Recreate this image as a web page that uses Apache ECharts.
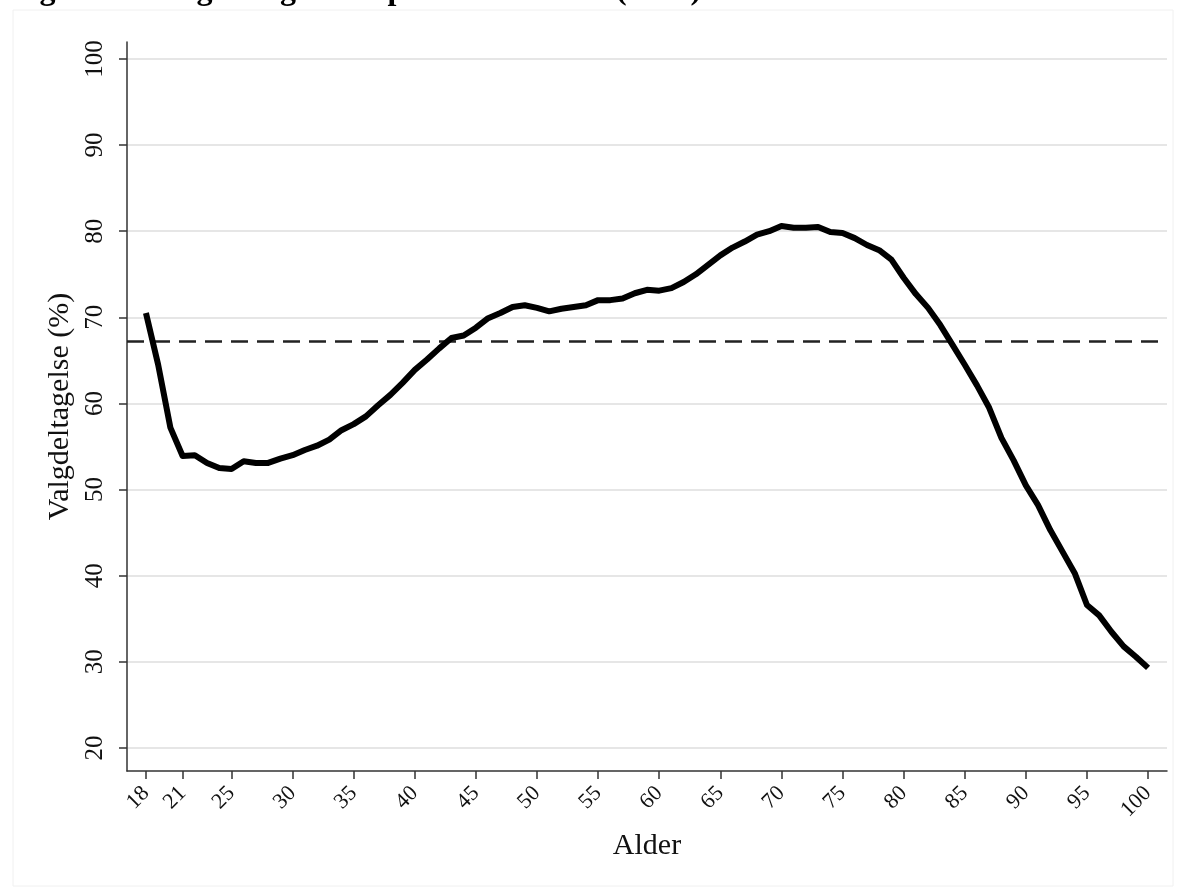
<!DOCTYPE html>
<html>
<head>
<meta charset="utf-8">
<script src="https://cdn.jsdelivr.net/npm/echarts@6/dist/echarts.min.js"></script>
<style>
html,body{margin:0;padding:0;background:#fff;}
#chart{width:1184px;height:893px;}
</style>
</head>
<body>
<div id="chart"></div>
<script>
const titleText = 'Figur 2.2. Valgdeltagelsen opdelt efter alder (2022)';
const xName = 'Alder';
const yName = 'Valgdeltagelse (%)';
const ages = [];
for (let a = 18; a <= 100; a++) ages.push(a);
const turnout = [
  70.5, 64.5, 57.2, 53.9, 54.0, 53.1, 52.5, 52.4, 53.3, 53.1,
  53.1, 53.6, 54.0, 54.6, 55.1, 55.8, 56.9, 57.6, 58.5, 59.8,
  61.0, 62.4, 63.9, 65.1, 66.4, 67.6, 67.9, 68.8, 69.9, 70.5,
  71.2, 71.4, 71.1, 70.7, 71.0, 71.2, 71.4, 72.0, 72.0, 72.2,
  72.8, 73.2, 73.1, 73.4, 74.1, 75.0, 76.1, 77.2, 78.1, 78.8,
  79.6, 80.0, 80.6, 80.4, 80.4, 80.5, 79.9, 79.8, 79.2, 78.4,
  77.8, 76.7, 74.6, 72.7, 71.1, 69.1, 66.8, 64.5, 62.1, 59.5,
  56.0, 53.4, 50.5, 48.2, 45.3, 42.8, 40.3, 36.6, 35.4, 33.5,
  31.8, 30.6, 29.3
];
const average = 67.2;
const xTicks = [18, 21, 25, 30, 35, 40, 45, 50, 55, 60, 65, 70, 75, 80, 85, 90, 95, 100];
const yTicks = [20, 30, 40, 50, 60, 70, 80, 90, 100];

const serif = '"Liberation Serif", "Times New Roman", "DejaVu Serif", serif';
const chart = echarts.init(document.getElementById('chart'), null, {renderer: 'canvas'});
chart.setOption({
  backgroundColor: '#ffffff',
  animation: false,
  title: {
    text: titleText,
    left: 6,
    top: -30,
    textStyle: {fontFamily: serif, fontWeight: 'bold', fontSize: 32, color: '#000'}
  },
  graphic: [{
    type: 'rect',
    shape: {x: 13, y: 10, width: 1160, height: 876},
    style: {fill: 'none', stroke: '#f0f0f0', lineWidth: 1},
    silent: true, z: -1
  }],
  grid: {left: 127, right: 17, top: 42, bottom: 122, containLabel: false},
  xAxis: {
    type: 'value',
    min: 16.45,
    max: 101.55,
    name: xName,
    nameLocation: 'middle',
    nameGap: 60,
    nameTextStyle: {fontFamily: serif, fontSize: 30, color: '#111'},
    axisLine: {show: true, lineStyle: {color: '#333', width: 1.5}},
    axisTick: {show: true, length: 8, lineStyle: {color: '#333', width: 1.5}, customValues: xTicks},
    axisLabel: {
      customValues: xTicks,
      rotate: 45,
      margin: 19,
      fontFamily: serif,
      fontSize: 22,
      color: '#111'
    },
    splitLine: {show: false}
  },
  yAxis: {
    type: 'value',
    min: 17.33,
    max: 101.97,
    name: yName,
    nameLocation: 'middle',
    nameGap: 44,
    nameRotate: 90,
    nameTextStyle: {fontFamily: serif, fontSize: 30, color: '#111'},
    axisLine: {show: true, lineStyle: {color: '#333', width: 1.5}},
    axisTick: {show: true, length: 8, lineStyle: {color: '#333', width: 1.5}, customValues: yTicks},
    axisLabel: {
      customValues: yTicks,
      rotate: 90,
      margin: 19,
      align: 'center',
      verticalAlign: 'bottom',
      fontFamily: serif,
      fontSize: 25,
      color: '#111'
    },
    splitLine: {show: true, lineStyle: {color: '#e6e6e6', width: 2}}
  },
  series: [{
    type: 'line',
    data: ages.map((a, i) => [a, turnout[i]]),
    showSymbol: false,
    symbol: 'none',
    lineStyle: {color: '#000', width: 6, join: 'round', cap: 'butt'},
    z: 3,
    markLine: {
      silent: true,
      symbol: ['none', 'none'],
      label: {show: false},
      lineStyle: {color: '#222', width: 2.5, type: [17, 9]},
      data: [{yAxis: average}],
      z: 2
    }
  }]
});
</script>
</body>
</html>
